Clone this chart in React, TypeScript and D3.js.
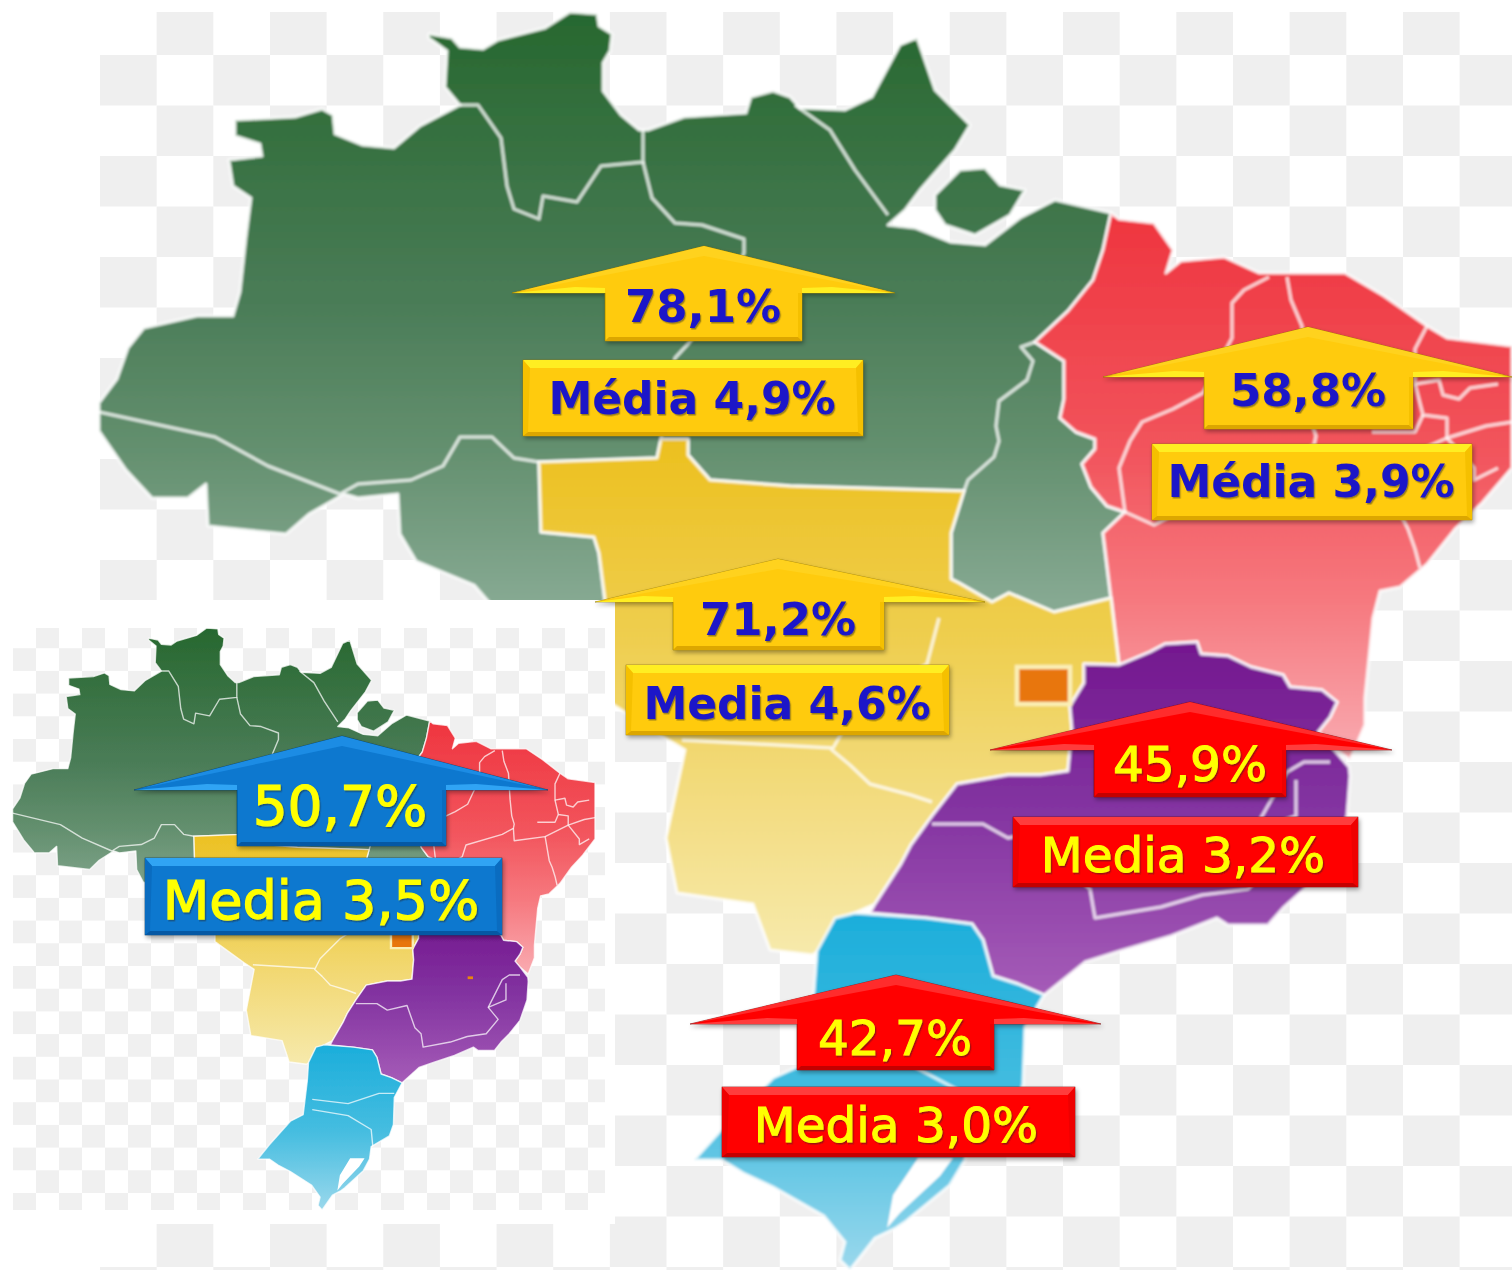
import React from "react";
import * as d3 from "d3";

type Pt = [number, number];

// values
const regionNames = ["Norte", "Nordeste", "Centro-Oeste", "Sudeste", "Sul", "Brasil"];
const growthValues = [78.1, 58.8, 71.2, 45.9, 42.7, 50.7];
const mediaValues = [4.9, 3.9, 4.6, 3.2, 3.0, 3.5];
const mediaWords = ["Média", "Média", "Media", "Media", "Media", "Media"];

// map outlines, in map units (same units as the large map)
const northOutline: Pt[] = [[99,403],[117,379],[128,348],[144,328],[197,316],[233,316],[240,292],[246,237],[251,198],[233,186],[229,160],[262,156],[260,144],[235,136],[235,120],[295,117],[322,109],[333,115],[335,134],[362,145],[394,148],[420,126],[460,105],[445,87],[447,51],[429,38],[429,34],[452,38],[460,47],[483,49],[498,40],[545,28],[570,12],[597,14],[599,26],[612,34],[610,51],[603,63],[603,91],[621,115],[639,130],[648,130],[684,117],[746,113],[751,97],[773,91],[790,97],[800,108],[845,110],[872,97],[900,45],[917,38],[935,90],[970,125],[955,150],[920,190],[905,210],[888,225],[915,228],[950,242],[985,245],[1020,218],[1055,200],[1111,213],[1103,250],[1093,280],[1068,311],[1035,342],[1064,361],[1064,399],[1060,418],[1076,432],[1095,439],[1095,449],[1082,464],[1091,487],[1107,506],[1125,512],[1103,533],[1111,598],[1054,612],[1009,593],[992,602],[959,583],[951,579],[951,533],[964,491],[790,486],[710,480],[688,455],[688,439],[661,439],[657,458],[539,462],[541,532],[594,537],[599,553],[605,600],[590,622],[500,615],[474,585],[416,561],[400,534],[398,494],[358,498],[344,494],[309,514],[286,534],[208,526],[206,484],[188,498],[152,498],[126,470],[99,431]];
const marajoOutline: Pt[] = [[935,195],[960,170],[985,168],[1000,185],[1025,190],[1010,215],[975,235],[945,225],[935,210]];
const northeastOutline: Pt[] = [[1111,213],[1119,219],[1154,223],[1173,250],[1166,273],[1181,261],[1224,257],[1259,273],[1345,273],[1384,296],[1427,326],[1447,338],[1512,346],[1512,468],[1482,503],[1455,529],[1427,564],[1400,587],[1380,591],[1373,618],[1365,698],[1365,725],[1350,760],[1330,745],[1318,732],[1330,717],[1337,702],[1322,690],[1290,687],[1283,675],[1251,667],[1228,656],[1201,654],[1197,642],[1165,644],[1150,652],[1119,665],[1111,598],[1103,533],[1125,512],[1107,506],[1091,487],[1082,464],[1095,449],[1095,439],[1076,432],[1060,418],[1064,399],[1064,361],[1035,342],[1068,311],[1093,280],[1103,250]];
const centerWestOutline: Pt[] = [[539,462],[657,458],[661,439],[688,439],[688,455],[710,480],[790,486],[964,491],[951,533],[951,579],[959,583],[992,602],[1009,593],[1054,612],[1111,598],[1119,665],[1084,664],[1084,683],[1070,706],[1072,729],[1068,771],[1040,775],[1008,775],[957,784],[932,816],[911,845],[901,864],[875,904],[850,915],[819,951],[812,955],[770,950],[753,904],[677,893],[666,838],[685,750],[660,735],[590,690],[590,640],[605,600],[599,553],[594,537],[541,532]];
const southeastOutline: Pt[] = [[1084,664],[1119,665],[1150,652],[1165,644],[1197,642],[1201,654],[1228,656],[1251,667],[1283,675],[1290,687],[1322,690],[1337,702],[1330,717],[1318,732],[1330,745],[1349,767],[1350,776],[1347,816],[1330,860],[1304,889],[1284,907],[1268,925],[1228,925],[1217,918],[1171,936],[1120,951],[1085,962],[1044,995],[1018,984],[993,976],[983,940],[972,924],[926,918],[870,913],[875,904],[901,864],[911,845],[932,816],[957,784],[1008,775],[1040,775],[1068,771],[1072,729],[1070,706],[1084,683]];
const southOutline: Pt[] = [[835,918],[855,913],[926,918],[972,924],[983,940],[993,976],[1018,984],[1044,995],[1025,1027],[1023,1085],[1013,1110],[969,1133],[965,1160],[950,1185],[905,1222],[896,1228],[875,1238],[850,1270],[840,1260],[845,1242],[824,1216],[773,1187],[743,1173],[722,1160],[694,1160],[722,1129],[773,1078],[804,1064],[814,991],[817,951]];
const lagoonOutline: Pt[] = [[918,1158],[953,1158],[940,1176],[900,1213],[887,1228],[893,1195]];
const brasiliaOutline: Pt[] = [[1017,667],[1070,667],[1070,704],[1017,704]];
const mineSpotOutline: Pt[] = [[1203,765],[1216,765],[1216,771],[1203,771]];

// borders between the states
const stateBorders: Pt[][] = [
  [[460,105],[478,105],[501,138],[507,186],[514,209],[539,219],[543,196],[577,202],[601,166],[643,162],[643,130]],
  [[643,162],[652,198],[675,223],[702,225],[744,239],[744,253],[722,300],[688,344],[675,358],[668,400],[661,439]],
  [[99,412],[215,437],[268,466],[340,494],[358,484],[411,480],[443,466],[460,437],[492,437],[514,458],[539,462]],
  [[795,105],[830,130],[855,170],[888,215]],
  [[1035,342],[1021,347],[1033,361],[1027,380],[999,401],[996,426],[999,441],[994,457],[968,480],[964,491]],
  [[1125,512],[1119,468],[1130,441],[1142,422],[1173,409],[1203,393],[1232,338],[1232,303],[1244,290],[1269,277]],
  [[1287,277],[1291,300],[1302,326],[1306,383],[1310,418],[1316,436],[1314,445],[1287,458],[1199,481],[1190,506],[1154,525],[1125,512]],
  [[1314,445],[1316,472],[1391,463],[1401,515],[1408,529],[1415,549],[1420,568]],
  [[1427,326],[1415,349],[1415,384],[1439,380],[1443,395],[1459,399],[1470,388],[1498,384]],
  [[1415,384],[1423,415],[1447,418],[1447,438],[1486,426],[1512,422]],
  [[1372,432],[1415,432],[1423,415]],
  [[1391,463],[1447,438],[1474,468],[1474,480],[1498,468]],
  [[939,618],[927,664],[893,684],[845,727],[832,750],[850,765],[870,784],[911,795],[932,802]],
  [[682,740],[832,748]],
  [[932,824],[983,824],[1008,838],[1056,828],[1075,876],[1090,889],[1095,918],[1161,907],[1202,895],[1248,889],[1277,858],[1253,832],[1287,772],[1304,762],[1330,762]],
  [[1296,780],[1296,816],[1253,832]],
  [[826,1031],[913,1040],[988,1018],[1025,1018]],
  [[826,1053],[913,1066],[969,1096],[973,1133]],
];

const regionLayers = [
  { id: "north", outlines: [northOutline, marajoOutline], stops: [[12,"#27682f"],[300,"#4a7c57"],[450,"#64906f"],[600,"#86a992"]] },
  { id: "northeast", outlines: [northeastOutline], stops: [[220,"#ef3640"],[450,"#f2545c"],[600,"#f6797f"],[750,"#f9a8ae"]] },
  { id: "centerwest", outlines: [centerWestOutline], stops: [[440,"#ecc01f"],[650,"#efcf52"],[800,"#f3dc80"],[950,"#f6e9aa"]] },
  { id: "southeast", outlines: [southeastOutline], stops: [[642,"#74188f"],[800,"#8232a0"],[1000,"#a65db8"]] },
  { id: "south", outlines: [southOutline], stops: [[915,"#1caedb"],[1100,"#45bde0"],[1270,"#9ad8ec"]] },
];

const palettes = {
  gold: { base: "#ffcb08", edge: "#ffd21e", light: "#ffee22", side: "#f5c000", dark: "#dca600", line: "#8f7400", text: "#1a16c8" },
  red: { base: "#ff0000", edge: "#ff2c2c", light: "#ff3c3c", side: "#ee0000", dark: "#c40000", line: "#7a1010", text: "#ffff00" },
  blue: { base: "#0878cf", edge: "#1c8ce4", light: "#30a4f4", side: "#0a6cc0", dark: "#0558a4", line: "#053663", text: "#ffff00" },
};

// where each callout sits, same order as the value arrays
const calloutLayout = [
  { tone: "gold", tip: 704, top: 246, wingL: 512, wingR: 895, wingY: 293, stemL: 605, stemR: 802, stemB: 341, textX: 703, textY: 306, box: [523, 360, 863, 436], boxTextX: 692, boxTextY: 398, size: 45, boxSize: 44 },
  { tone: "gold", tip: 1308, top: 327, wingL: 1103, wingR: 1512, wingY: 377, stemL: 1204, stemR: 1413, stemB: 429, textX: 1308, textY: 390, box: [1152, 444, 1472, 520], boxTextX: 1311, boxTextY: 481, size: 45, boxSize: 44 },
  { tone: "gold", tip: 778, top: 559, wingL: 595, wingR: 985, wingY: 602, stemL: 673, stemR: 884, stemB: 650, textX: 778, textY: 619, box: [626, 665, 949, 735], boxTextX: 787, boxTextY: 703, size: 45, boxSize: 44 },
  { tone: "red", tip: 1190, top: 702, wingL: 990, wingR: 1392, wingY: 750, stemL: 1094, stemR: 1286, stemB: 797, textX: 1190, textY: 764, box: [1013, 817, 1358, 887], boxTextX: 1183, boxTextY: 855, size: 48.5, boxSize: 48.5 },
  { tone: "red", tip: 896, top: 975, wingL: 690, wingR: 1101, wingY: 1024, stemL: 797, stemR: 994, stemB: 1070, textX: 895, textY: 1038, box: [722, 1087, 1075, 1157], boxTextX: 896, boxTextY: 1125, size: 48.5, boxSize: 48.5 },
  { tone: "blue", tip: 342, top: 736, wingL: 134, wingR: 548, wingY: 790, stemL: 237, stemR: 446, stemB: 846, textX: 340, textY: 805, box: [145, 858, 502, 935], boxTextX: 321, boxTextY: 900, size: 55, boxSize: 54 },
];

const ptBR = d3.formatLocale({ decimal: ",", thousands: ".", grouping: [3], currency: ["R$", ""] });
const pct = (v: number) => ptBR.format(".1f")(v) + "%";

function Checker({ x0, x1, y0, y1, w, h, startY, fill }: any) {
  const rows = d3.range(Math.ceil((y1 - startY) / h));
  return (
    <g fill={fill}>
      {rows.map((r) => {
        const top = Math.max(y0, startY + r * h);
        const bottom = Math.min(y1, startY + (r + 1) * h);
        const shift = r % 2 === 0 ? w : 0;
        return d3.range(x0 + shift, x1, w * 2).map((x) => (
          <rect key={r + "-" + x} x={x} y={top} width={Math.min(w, x1 - x)} height={Math.max(0, bottom - top)} />
        ));
      })}
    </g>
  );
}

function BrazilMap({ name, xScale, yScale, borderWidth, blur }: any) {
  const path = d3.line<Pt>().x((d) => xScale(d[0])).y((d) => yScale(d[1]));
  const closed = (pts: Pt[]) => path(pts) + "Z";
  return (
    <g filter={`url(#${blur})`}>
      <defs>
        {regionLayers.map((r) => (
          <linearGradient key={r.id} id={name + r.id} gradientUnits="userSpaceOnUse" x1={0} x2={0} y1={yScale(r.stops[0][0])} y2={yScale(r.stops[r.stops.length - 1][0])}>
            {r.stops.map((s: any, i: number) => (
              <stop key={i} offset={(s[0] - r.stops[0][0]) / (r.stops[r.stops.length - 1][0] - r.stops[0][0])} stopColor={s[1]} />
            ))}
          </linearGradient>
        ))}
      </defs>
      {regionLayers.map((r) =>
        r.outlines.map((o, i) => (
          <path key={r.id + i} d={closed(o)} fill={`url(#${name}${r.id})`} stroke="#fff" strokeOpacity={0.75} strokeWidth={borderWidth} strokeLinejoin="round" />
        ))
      )}
      <path d={closed(lagoonOutline)} fill="#fff" />
      {stateBorders.map((b, i) => (
        <path key={i} d={path(b) as string} fill="none" stroke="#fff" strokeOpacity={0.72} strokeWidth={borderWidth} strokeLinejoin="round" />
      ))}
      <path d={closed(brasiliaOutline)} fill="#e8760c" stroke="#fbeeb4" strokeWidth={borderWidth + 1} />
      <path d={closed(mineSpotOutline)} fill="#e8860c" />
    </g>
  );
}

function Callout({ index }: { index: number }) {
  const c = calloutLayout[index] as any;
  const p = (palettes as any)[c.tone];
  const poly = (pts: number[][]) => pts.map((q) => q.join(",")).join(" ");
  const [bx0, by0, bx1, by1] = c.box;
  const isGold = c.tone === "gold";
  const textProps = {
    fontFamily: "'DejaVu Sans', Verdana, sans-serif",
    fontWeight: isGold ? 700 : 400,
    fill: p.text,
    stroke: isGold ? "none" : p.text,
    strokeWidth: isGold ? 0 : c.tone === "blue" ? 1.2 : 1,
    textAnchor: "middle" as const,
    filter: "url(#textShade)",
  };
  return (
    <g>
      <polygon
        points={poly([[c.tip, c.top], [c.wingR, c.wingY], [c.stemR, c.wingY], [c.stemR, c.stemB], [c.stemL, c.stemB], [c.stemL, c.wingY], [c.wingL, c.wingY]])}
        fill={p.base} stroke={p.line} strokeWidth={0.6} filter="url(#dropShade)"
      />
      <polygon points={poly([[c.tip, c.top], [c.wingR, c.wingY], [c.tip, c.top + 10], [c.wingL, c.wingY]])} fill={p.edge} />
      <polygon points={poly([[c.wingL, c.wingY], [c.stemL, c.wingY], [c.stemL, c.wingY - 5], [c.stemL - 30, c.wingY - 6]])} fill={p.light} />
      <polygon points={poly([[c.wingR, c.wingY], [c.stemR, c.wingY], [c.stemR, c.wingY - 5], [c.stemR + 30, c.wingY - 6]])} fill={p.light} />
      <polygon points={poly([[c.stemR, c.wingY], [c.stemR, c.stemB], [c.stemR - 4, c.stemB - 4], [c.stemR - 4, c.wingY]])} fill={p.side} />
      <polygon points={poly([[c.stemL, c.stemB], [c.stemR, c.stemB], [c.stemR - 4, c.stemB - 4], [c.stemL + 4, c.stemB - 4]])} fill={p.dark} />
      <text x={c.textX} y={c.textY + c.size * 0.36} fontSize={c.size} {...textProps}>{pct(growthValues[index])}</text>

      <rect x={bx0} y={by0} width={bx1 - bx0} height={by1 - by0} fill={p.base} stroke={p.line} strokeWidth={0.6} filter="url(#dropShade)" />
      <polygon points={poly([[bx0, by0], [bx1, by0], [bx1 - 7, by0 + 8], [bx0 + 7, by0 + 8]])} fill={p.light} />
      <polygon points={poly([[bx0, by0], [bx0 + 7, by0 + 8], [bx0 + 5, by1 - 4], [bx0, by1]])} fill={p.side} />
      <polygon points={poly([[bx1, by0], [bx1 - 7, by0 + 8], [bx1 - 5, by1 - 4], [bx1, by1]])} fill={p.side} />
      <polygon points={poly([[bx0, by1], [bx1, by1], [bx1 - 5, by1 - 4], [bx0 + 5, by1 - 4]])} fill={p.dark} />
      <text x={c.boxTextX} y={c.boxTextY + c.boxSize * 0.36} fontSize={c.boxSize} {...textProps}>{`${mediaWords[index]} ${pct(mediaValues[index])}`}</text>
    </g>
  );
}

export default function App() {
  const width = 1512;
  const height = 1270;
  const bigX = d3.scaleLinear().domain([100, 1512]).range([100, 1512]);
  const bigY = d3.scaleLinear().domain([12, 1270]).range([12, 1270]);
  const insetX = d3.scaleLinear().domain([100, 1512]).range([13, 595]);
  const insetY = d3.scaleLinear().domain([12, 1270]).range([628, 1210]);

  return (
    <svg width={width} height={height} style={{ position: "absolute", left: 0, top: 0, background: "#fff" }}>
      <defs>
        <filter id="dropShade" x="-10%" y="-20%" width="120%" height="150%">
          <feDropShadow dx={1.5} dy={2.5} stdDeviation={2} floodColor="#000" floodOpacity={0.35} />
        </filter>
        <filter id="textShade" x="-10%" y="-20%" width="120%" height="150%">
          <feDropShadow dx={1.2} dy={1.5} stdDeviation={0.6} floodColor="#222" floodOpacity={0.45} />
        </filter>
        <filter id="softBig" x="-2%" y="-2%" width="104%" height="104%">
          <feGaussianBlur stdDeviation={0.9} />
        </filter>
        <filter id="softInset" x="-2%" y="-2%" width="104%" height="104%">
          <feGaussianBlur stdDeviation={0.4} />
        </filter>
      </defs>

      <Checker x0={100} x1={1512} y0={12} y1={1270} w={56.65} h={50.5} startY={4.5} fill="#efefef" />
      <BrazilMap name="big" xScale={bigX} yScale={bigY} borderWidth={3.5} blur="softBig" />

      <rect x={0} y={600} width={615} height={624} fill="#fff" />
      <Checker x0={13} x1={605} y0={628} y1={1210} w={23} h={22.7} startY={625.5} fill="#f0f0f0" />
      <BrazilMap name="inset" xScale={insetX} yScale={insetY} borderWidth={1.4} blur="softInset" />

      {regionNames.map((n, i) => (
        <Callout key={n} index={i} />
      ))}
    </svg>
  );
}
